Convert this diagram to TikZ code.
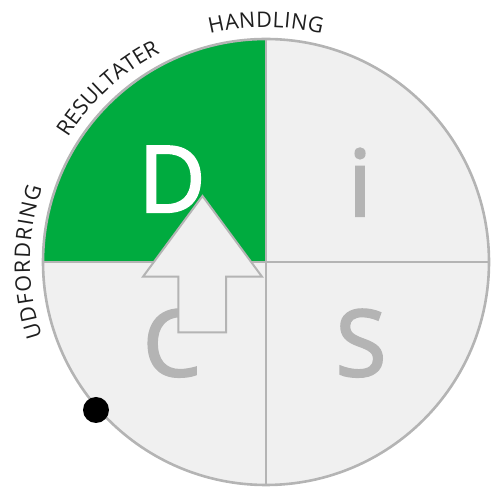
\documentclass[tikz,border=0pt]{standalone}
\usepackage{fontspec}
\setmainfont{Open Sans}
\newfontfamily\bigfam{Open Sans}[FakeBold=2.5]
\usetikzlibrary{decorations.text}
\definecolor{dgreen}{RGB}{0,171,63}
\definecolor{lightfill}{RGB}{240,240,240}
\definecolor{grayline}{RGB}{180,180,180}
\definecolor{lettergray}{RGB}{180,180,180}
\definecolor{labelcol}{RGB}{30,30,30}
\newcommand{\biglet}{\bigfam\fontsize{92}{92}\selectfont}
\newcommand{\labfont}{\fontsize{21.5}{21.5}\selectfont}
\begin{document}
\begin{tikzpicture}[x=1pt,y=1pt,
  rim/.style={draw=grayline, line width=2.6pt},
  cross/.style={draw=grayline, line width=2.6pt},
  bigletter/.style={font=\biglet, inner sep=0pt, anchor=base},
  arrowshape/.style={fill=lightfill, draw=grayline, line width=2pt, line join=miter},
  arclabel/.style={decorate, decoration={text along path, text align={fit to path}, text color=labelcol}}
]
\useasboundingbox (0,0) rectangle (493,487);
\coordinate (c) at (266,225);
\coordinate (top) at (266,448);
\coordinate (bottom) at (266,2);
\coordinate (left) at (43,225);
\coordinate (right) at (489,225);
% disc
\fill[lightfill] (c) circle[radius=223];
\fill[dgreen] (c) -- (top) arc[start angle=90,end angle=180,radius=223] -- cycle;
\draw[cross] (top) -- (bottom);
\draw[cross] (left) -- (right);
\draw[rim] (c) circle[radius=223];
% letters
\node[bigletter, text=white] (D) at (172,275) {D};
\node[bigletter, text=lettergray] (I) at (360,271) {i};
\node[bigletter, text=lettergray] (S) at (361,111) {S};
\node[bigletter, text=lettergray] (C) at (172,111) {C};
% arrow
\draw[arrowshape] (202.5,291) -- (262,210.3) -- (226,210.3) -- (226,154.7)
  -- (178.3,154.7) -- (178.3,210.3) -- (143,210.3) -- cycle;
% dot
\fill[black] (96,77) circle[radius=13];
% labels
\path[arclabel, decoration={text={|\labfont|HANDLING}}]
  (c) ++(103.8:235) arc[start angle=103.8,end angle=76.2,radius=235];
\path[arclabel, decoration={text={|\labfont|RESULTATER}}]
  (c) ++(147.8:234) arc[start angle=147.8,end angle=117,radius=234];
\path[arclabel, decoration={text={|\labfont|UDFORDRING}}]
  (c) ++(198.5:236) arc[start angle=198.5,end angle=161.5,radius=236];
\end{tikzpicture}
\end{document}
